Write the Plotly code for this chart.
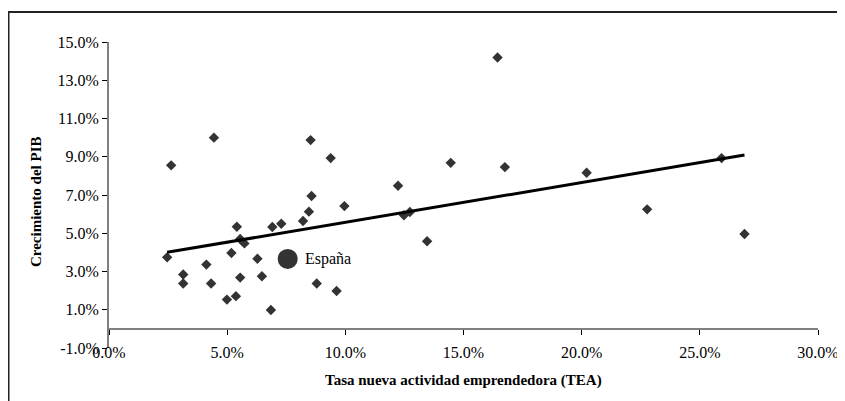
import numpy as np
import plotly.graph_objects as go

# Tasa nueva actividad emprendedora (TEA), %
tea = [2.46, 2.63, 3.14, 3.14, 4.12, 4.32, 4.44, 4.99, 5.18, 5.37, 5.41, 5.55, 5.55,
       5.73, 6.28, 6.47, 6.85, 6.91, 7.29, 8.21, 8.46, 8.53, 8.57, 8.79, 9.38, 9.63,
       9.96, 12.23, 12.48, 12.73, 13.46, 14.46, 16.44, 16.75, 20.21, 22.77, 25.92, 26.89]
# Crecimiento del PIB, %
pib = [3.74, 8.55, 2.84, 2.37, 3.36, 2.37, 10.0, 1.53, 3.97, 1.71, 5.34, 4.70, 2.68,
       4.47, 3.67, 2.75, 0.99, 5.33, 5.50, 5.64, 6.13, 9.87, 6.95, 2.37, 8.93, 1.98,
       6.42, 7.48, 5.94, 6.11, 4.58, 8.68, 14.19, 8.46, 8.16, 6.25, 8.93, 4.96]

espana_label = "España"
espana_tea = [7.56]
espana_pib = [3.66]

x_title = "Tasa nueva actividad emprendedora (TEA)"
y_title = "Crecimiento del PIB"

x_tickvals = [0, 5, 10, 15, 20, 25, 30]
x_ticktext = ["0.0%", "5.0%", "10.0%", "15.0%", "20.0%", "25.0%", "30.0%"]
y_tickvals = [-1, 1, 3, 5, 7, 9, 11, 13, 15]
y_ticktext = ["-1.0%", "1.0%", "3.0%", "5.0%", "7.0%", "9.0%", "11.0%", "13.0%", "15.0%"]

# linear trend
slope, intercept = np.polyfit(tea, pib, 1)
trend_x = [min(tea), max(tea)]
trend_y = [slope * v + intercept for v in trend_x]

FONT = "Liberation Serif"

# plot-area geometry (figure pixels)
L, R, T, B = 101, 35, 34, 61
PW = 845 - L - R
PH = 401 - T - B

fig = go.Figure()
fig.add_trace(go.Scatter(x=tea, y=pib, mode="markers",
                         marker=dict(symbol="diamond", size=8, color="#333333"),
                         showlegend=False, hoverinfo="x+y"))
fig.add_trace(go.Scatter(x=trend_x, y=trend_y, mode="lines",
                         line=dict(color="black", width=3),
                         showlegend=False, hoverinfo="skip"))
fig.add_trace(go.Scatter(x=espana_tea, y=espana_pib, mode="markers",
                         marker=dict(symbol="circle", size=20, color="#333333"),
                         showlegend=False, hoverinfo="x+y"))

fig.add_annotation(x=espana_tea[0], y=espana_pib[0], text=espana_label,
                   showarrow=False, xanchor="left", yanchor="middle", xshift=15,
                   font=dict(family=FONT, size=16, color="black"))

# axis titles as annotations
fig.add_annotation(xref="paper", yref="paper", x=(28 - L) / PW, y=0.477,
                   text="<b>" + y_title + "</b>", textangle=-90, showarrow=False,
                   xanchor="center", yanchor="middle",
                   font=dict(family=FONT, size=15, color="black"))
fig.add_annotation(xref="paper", yref="paper", x=0.5, y=-0.1046,
                   text="<b>" + x_title + "</b>", showarrow=False,
                   xanchor="center", yanchor="middle",
                   font=dict(family=FONT, size=15, color="black"))

# outer border
fig.add_shape(type="rect", xref="paper", yref="paper",
              x0=(0.5 - L) / PW, x1=1.08, y0=-0.3, y1=(PH + T - 4) / PH,
              line=dict(color="#222222", width=2), fillcolor="rgba(0,0,0,0)")

fig.update_layout(
    width=845, height=401,
    margin=dict(l=L, r=R, t=T, b=B, autoexpand=False),
    paper_bgcolor="white", plot_bgcolor="white",
    font=dict(family=FONT, size=16, color="black"),
    xaxis=dict(range=[0, 30], tickvals=x_tickvals, ticktext=x_ticktext,
               anchor="free", position=0.022, automargin=False,
               showgrid=False, zeroline=False, showline=False, ticks="",
               showticklabels=True,
               tickfont=dict(family=FONT, size=16, color="black")),
    xaxis2=dict(range=[0, 30], tickvals=x_tickvals, overlaying="x", anchor="free",
                position=1 / 16, side="bottom", showgrid=False, zeroline=False,
                automargin=False,
                showline=True, linecolor="#808080", linewidth=2,
                ticks="outside", ticklen=5, tickcolor="black", tickwidth=1,
                showticklabels=False),
    yaxis=dict(range=[-1, 15], tickvals=y_tickvals, ticktext=y_ticktext,
               automargin=False,
               showgrid=False, zeroline=False, showline=True, linecolor="#808080",
               linewidth=2, ticks="outside", ticklen=5, tickcolor="black",
               tickwidth=1, tickfont=dict(family=FONT, size=16, color="black")),
)

# dummy trace to activate xaxis2
fig.add_trace(go.Scatter(x=[None], y=[None], xaxis="x2", showlegend=False,
                         hoverinfo="skip"))

fig.write_html("out.html")
